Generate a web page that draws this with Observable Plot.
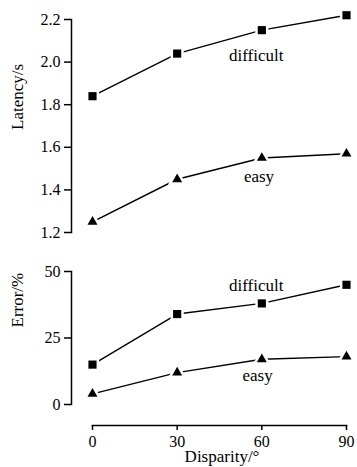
<!DOCTYPE html>
<html><head><meta charset="utf-8">
<script src="https://cdn.jsdelivr.net/npm/d3@7"></script>
<script src="https://cdn.jsdelivr.net/npm/@observablehq/plot@0.6"></script>
<style>body{margin:0;background:#fff} svg{display:block}</style>
</head><body><div id="c"></div>
<script>
const disparity = [0, 30, 60, 90];
const conditions = ["difficult", "easy"];
const latencyDifficult = [1.84, 2.04, 2.15, 2.22];
const latencyEasy = [1.25, 1.45, 1.55, 1.57];
const errorDifficult = [15, 34, 38, 45];
const errorEasy = [4, 12, 17, 18];
const latencyTicks = [1.2, 1.4, 1.6, 1.8, 2.0, 2.2];
const errorTicks = [0, 25, 50];
const disparityTicks = [0, 30, 60, 90];
// label anchor points in data units
const latencyLabelX = [58, 59];
const latencyLabelY = [2.03, 1.465];
const errorLabelX = [58, 58.5];
const errorLabelY = [44.7, 10.9];

function rows(a, b) {
  const out = [];
  disparity.forEach((d, i) => out.push({cond: "difficult", x: d, y: a[i]}));
  disparity.forEach((d, i) => out.push({cond: "easy", x: d, y: b[i]}));
  return out;
}
const labels = (xs, ys) => conditions.map((c, i) => ({cond: c, x: xs[i], y: ys[i]}));

const font = "Liberation Serif";
const chartStyle = {fontFamily: font, fontSize: "15px", color: "#000", background: "#fff"};

function seriesMarks(data) {
  return [
    Plot.line(data, {x: "x", y: "y", z: "cond", stroke: "#000", strokeWidth: 1.4}),
    Plot.dot(data.filter(d => d.cond === "difficult"), {x: "x", y: "y", symbol: "square", r: 4.6, fill: "#000", stroke: "#fff", strokeWidth: 5, paintOrder: "stroke"}),
    Plot.dot(data.filter(d => d.cond === "easy"), {x: "x", y: "y", symbol: "triangle", r: 3.7, fill: "#000", stroke: "#fff", strokeWidth: 5, paintOrder: "stroke"})
  ];
}

const topChart = Plot.plot({
  width: 357, height: 245,
  marginLeft: 71, marginRight: 11, marginTop: 19, marginBottom: 13,
  style: chartStyle,
  x: {domain: [0, 90], insetLeft: 21, axis: null},
  y: {domain: [1.2, 2.2]},
  marks: [
    Plot.frame({anchor: "left", strokeWidth: 1.5}),
    Plot.axisY(latencyTicks, {tickSize: 7, tickPadding: 4, tickFormat: d => d.toFixed(1), label: null, strokeWidth: 1.5, fontSize: 16, fontFamily: font}),
    ...seriesMarks(rows(latencyDifficult, latencyEasy)),
    Plot.text(labels(latencyLabelX, latencyLabelY), {x: "x", y: "y", text: "cond", fontSize: 17, fontFamily: font}),
    Plot.text(["Latency/s"], {frameAnchor: "left", rotate: -90, dx: -54, dy: 4, fontSize: 17, fontFamily: font})
  ]
});

const bottomChart = Plot.plot({
  width: 357, height: 222,
  marginLeft: 71, marginRight: 11, marginTop: 26, marginBottom: 42,
  style: chartStyle,
  x: {domain: [0, 90], insetLeft: 21},
  y: {domain: [0, 50], insetBottom: 21},
  marks: [
    Plot.frame({anchor: "left", insetBottom: 21, strokeWidth: 1.5}),
    Plot.frame({anchor: "bottom", insetLeft: 21, strokeWidth: 1.5}),
    Plot.axisY(errorTicks, {tickSize: 7, tickPadding: 4, label: null, strokeWidth: 1.5, fontSize: 16, fontFamily: font}),
    Plot.axisX(disparityTicks, {tickSize: 5, tickPadding: 5, label: null, strokeWidth: 1.5, fontSize: 16, fontFamily: font}),
    ...seriesMarks(rows(errorDifficult, errorEasy)),
    Plot.text(labels(errorLabelX, errorLabelY), {x: "x", y: "y", text: "cond", fontSize: 17, fontFamily: font}),
    Plot.text(["Error/%"], {frameAnchor: "left", rotate: -90, dx: -54, dy: -21, fontSize: 17, fontFamily: font}),
    Plot.text(["Disparity/°"], {frameAnchor: "bottom", dx: 13, dy: 36, fontSize: 17, fontFamily: font})
  ]
});

document.getElementById("c").append(topChart, bottomChart);
</script>
</body></html>
